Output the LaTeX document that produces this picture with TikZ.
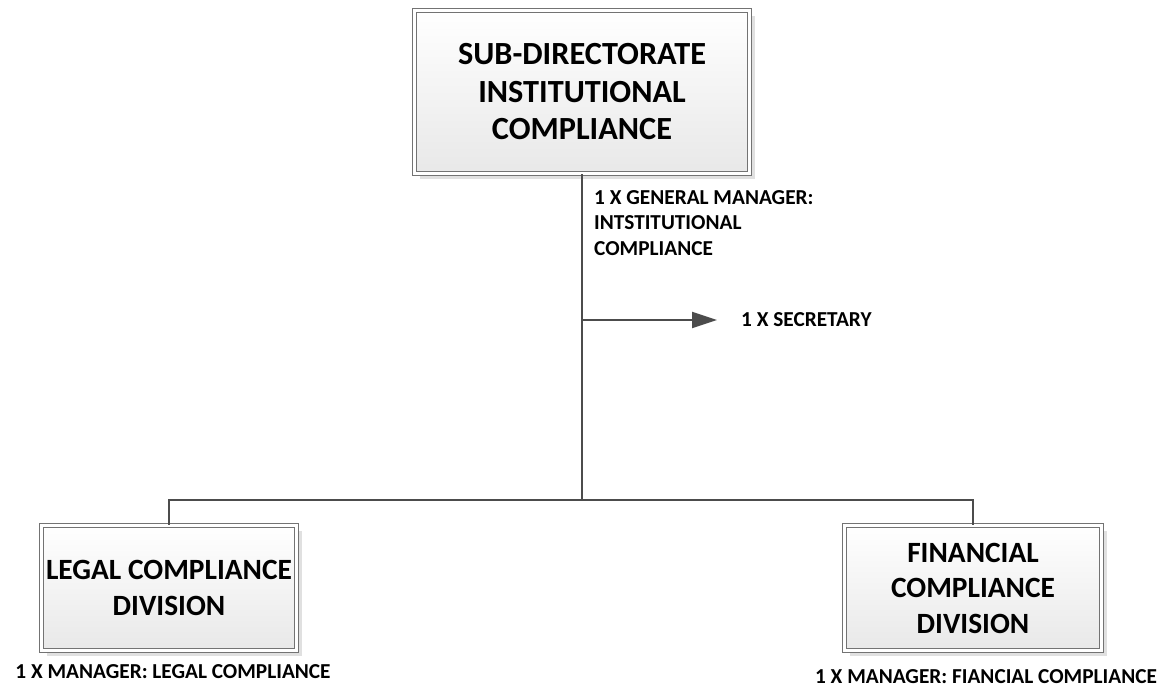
\documentclass[tikz,border=0pt]{standalone}
\usepackage{fontspec}
\setmainfont{Carlito}
\usetikzlibrary{arrows.meta,shadows,positioning}

\begin{document}
\begin{tikzpicture}[x=1pt,y=-1pt]
\tikzset{unit/.style={draw=black!55,line width=1.3pt,double=white,double distance=2.6pt,
  top color=white,bottom color=black!9,align=center,inner sep=2pt,
  font=\bfseries\fontsize{29.4}{35.5}\selectfont,
  drop shadow={shadow xshift=5pt,shadow yshift=-5pt,fill=black!12,opacity=1}}}
\tikzset{post/.style={font=\bfseries\fontsize{21.3}{25.5}\selectfont,align=left,inner sep=0pt}}
\tikzset{link/.style={draw=black!70,line width=2pt}}

\useasboundingbox (0,0) rectangle (1161,688);

\node[unit,minimum width=335pt,minimum height=163pt,
  font=\bfseries\fontsize{32.3}{37.5}\selectfont] (sub) at (582,92)
  {SUB-DIRECTORATE\\INSTITUTIONAL\\COMPLIANCE};
\node[unit,minimum width=255pt,minimum height=125pt] (legal) at (169,588)
  {LEGAL COMPLIANCE\\DIVISION};
\node[unit,minimum width=257pt,minimum height=125pt] (fin) at (973,588)
  {FINANCIAL\\COMPLIANCE\\DIVISION};

\node[post,anchor=north west] (gm) at (594,190)
  {1 X GENERAL MANAGER:\\INTSTITUTIONAL\\COMPLIANCE};
\node[post,anchor=west] (sec) at (741,320) {1 X SECRETARY};
\node[post] (legalmgr) at (173,672) {1 X MANAGER: LEGAL COMPLIANCE};
\node[post] (finmgr) at (986,677) {1 X MANAGER: FIANCIAL COMPLIANCE};

\coordinate (split) at (582,500);
\coordinate (branch) at (582,320);

\draw[link] (sub.south) -- (split);
\draw[link] (split) -| (legal.north);
\draw[link] (split) -| (fin.north);
\draw[link,-{Triangle[length=25pt,width=16pt]}] (branch) -- ([xshift=-24pt]sec.west);
\end{tikzpicture}
\end{document}
